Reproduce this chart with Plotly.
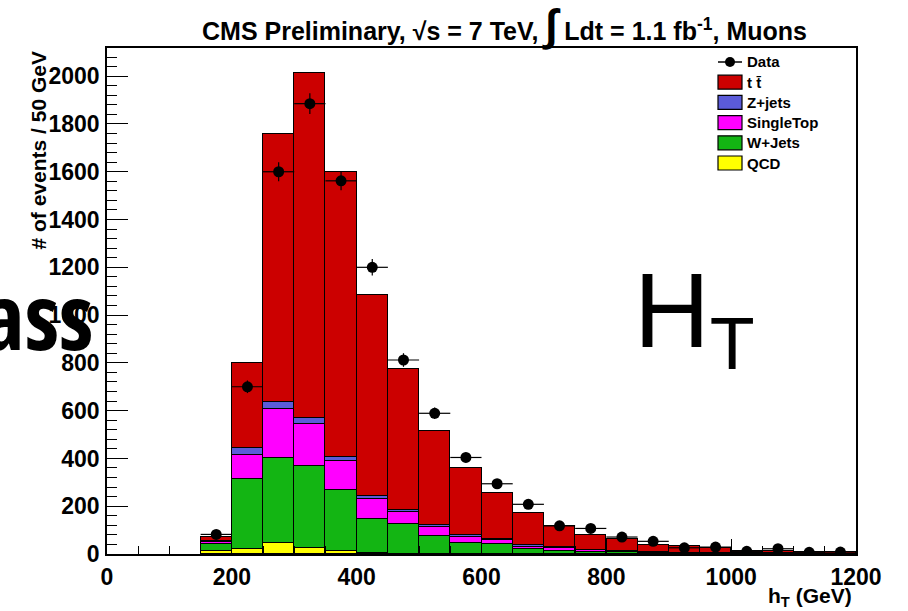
import plotly.graph_objects as go

# ---- data (50 GeV bins) ----
bin_centers = [175, 225, 275, 325, 375, 425, 475, 525, 575, 625, 675, 725,
               775, 825, 875, 925, 975, 1025, 1075, 1125, 1175]
qcd    = [14, 21, 45, 26, 11, 3, 1, 0, 0, 0, 0, 0, 0, 0, 0, 0, 0, 0, 0, 0, 0]
wjets  = [28, 293, 355, 344, 258, 143, 126, 77, 45, 41, 22, 14, 8, 7, 5, 4, 3, 2, 2, 1, 1]
single = [7, 100, 207, 175, 121, 83, 47, 37, 25, 17, 9, 11, 7, 4, 2, 1, 1, 1, 1, 1, 1]
zjets  = [7, 28, 29, 23, 17, 12, 11, 6, 9, 6, 5, 3, 2, 2, 1, 1, 1, 0, 0, 0, 0]
ttbar  = [14, 356, 1121, 1447, 1190, 844, 589, 396, 279, 190, 134, 89, 61, 48, 31, 26, 21, 10, 9, 6, 6]
data   = [82, 700, 1600, 1885, 1562, 1200, 812, 589, 404, 294, 208, 118, 107, 71, 53, 26, 29, 11, 22, 7, 8]

names  = ["QCD", "W+Jets", "SingleTop", "Z+jets", "t t\u0304"]
series = [qcd, wjets, single, zjets, ttbar]
colors = ["#FFFF00", "#13B513", "#FF00FF", "#5B5BD9", "#CC0000"]

x_ticks = [0, 200, 400, 600, 800, 1000, 1200]
y_ticks = [0, 200, 400, 600, 800, 1000, 1200, 1400, 1600, 1800, 2000]

FONT = "Liberation Sans, Arial, Helvetica, sans-serif"

W, H = 908, 611
ML, MR, MT, MB = 107, 52, 48, 57
PW, PH = W - ML - MR, H - MT - MB


def px(x):
    return (x - ML) / PW


def py(y):
    return (H - MB - y) / PH


fig = go.Figure()
for name, vals, col in zip(names, series, colors):
    fig.add_trace(go.Bar(
        x=bin_centers, y=vals, width=50, name=name, showlegend=False,
        marker=dict(color=col, line=dict(color="black", width=1.2)),
    ))

fig.add_trace(go.Scatter(
    x=bin_centers, y=data, mode="markers", name="Data", showlegend=False,
    marker=dict(color="black", size=11),
    error_x=dict(type="constant", value=25, color="black", thickness=1.2, width=0),
    error_y=dict(type="data", array=[v ** 0.5 for v in data], color="black", thickness=1.2, width=0),
))

# ---- ROOT-style legend (manual) ----
shapes = []
annotations = []
leg_font = dict(family=FONT, size=15, weight="bold", color="black")
leg_x0, leg_x1, leg_text_x = 718, 742, 745
leg_y0, leg_dy = 62, 20.2
# Data entry: line + marker
shapes.append(dict(type="line", xref="paper", yref="paper",
                   x0=px(leg_x0), x1=px(leg_x1), y0=py(leg_y0), y1=py(leg_y0),
                   line=dict(color="black", width=1.5)))
shapes.append(dict(type="circle", xref="paper", yref="paper",
                   x0=px(730 - 5), x1=px(730 + 5), y0=py(leg_y0 - 5), y1=py(leg_y0 + 5),
                   fillcolor="black", line=dict(color="black", width=0)))
annotations.append(dict(text="Data", xref="paper", yref="paper", x=px(leg_text_x), y=py(leg_y0),
                        xanchor="left", yanchor="middle", showarrow=False, font=leg_font))
for i, (name, col) in enumerate(zip(names[::-1], colors[::-1])):
    yc = leg_y0 + (i + 1) * leg_dy
    shapes.append(dict(type="rect", xref="paper", yref="paper",
                       x0=px(leg_x0), x1=px(leg_x1), y0=py(yc - 7), y1=py(yc + 7),
                       fillcolor=col, line=dict(color="black", width=1.2)))
    annotations.append(dict(text=name, xref="paper", yref="paper", x=px(leg_text_x), y=py(yc),
                            xanchor="left", yanchor="middle", showarrow=False, font=leg_font))

annotations += [
    dict(text="CMS Preliminary, \u221as = 7 TeV, <span style='font-size:44px'>\u222b</span> Ldt = 1.1 fb<sup>-1</sup>, Muons",
         xref="paper", yref="paper", x=px(504), y=1.0, xanchor="center", yanchor="bottom",
         yshift=-4, showarrow=False,
         font=dict(family=FONT, size=25, weight="bold", color="black")),
    dict(text="h<sub>T</sub> (GeV)", xref="paper", yref="paper", x=1.0, y=0,
         xanchor="right", yanchor="top", yshift=-28, xshift=-2, showarrow=False,
         font=dict(family=FONT, size=21, weight="bold", color="black")),
    dict(text="# of events / 50 GeV", xref="paper", yref="paper", x=0, y=1.0,
         xanchor="right", yanchor="top", xshift=-56, yshift=-2, textangle=-90,
         showarrow=False,
         font=dict(family=FONT, size=21, weight="bold", color="black")),
    dict(text="H<sub>T</sub>", xref="paper", yref="paper", x=px(632), y=py(318),
         xanchor="left", yanchor="middle", showarrow=False,
         font=dict(family=FONT, size=105, color="black")),
    dict(text="<span style='font-stretch:75%'>Mass</span>", xref="paper", yref="paper",
         x=px(96), y=py(314), xanchor="right", yanchor="middle", showarrow=False,
         font=dict(family="Open Sans", size=92, weight="bold", color="black")),
]

fig.update_layout(
    width=W, height=H,
    margin=dict(l=ML, r=MR, t=MT, b=MB),
    plot_bgcolor="white", paper_bgcolor="white",
    barmode="stack", bargap=0,
    font=dict(family=FONT, color="black"),
    showlegend=False,
    xaxis=dict(
        range=[0, 1200], tickvals=x_ticks, ticks="inside", ticklen=15, tickwidth=1,
        tickcolor="black", showline=True, linecolor="black", linewidth=1.5, mirror=True,
        showgrid=False, zeroline=False,
        tickfont=dict(family=FONT, size=23, weight="bold", color="black"),
        ticklabelstandoff=2,
        minor=dict(dtick=50, ticks="inside", ticklen=8, tickcolor="black", showgrid=False),
    ),
    yaxis=dict(
        range=[0, 2118], tickvals=y_ticks, ticks="inside", ticklen=21, tickwidth=1,
        tickcolor="black", showline=True, linecolor="black", linewidth=1.5, mirror=True,
        showgrid=False, zeroline=False,
        tickfont=dict(family=FONT, size=23, weight="bold", color="black"),
        ticklabelstandoff=1,
        minor=dict(dtick=40, ticks="inside", ticklen=10, tickcolor="black", showgrid=False),
    ),
    shapes=shapes,
    annotations=annotations,
)

fig.write_html("out.html")
